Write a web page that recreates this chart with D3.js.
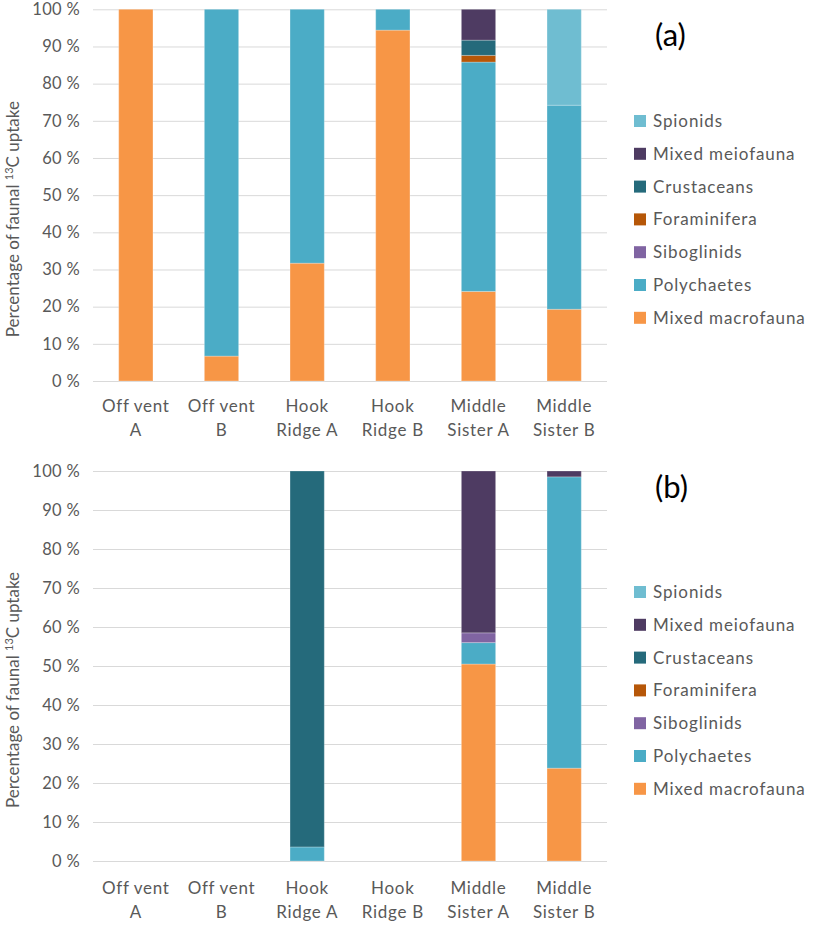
<!DOCTYPE html>
<html>
<head>
<meta charset="utf-8">
<script src="https://cdn.jsdelivr.net/npm/d3@7.9.0/dist/d3.min.js"></script>
<style>
  body { margin: 0; background: #fff; }
  text { font-family: Lato, "Open Sans", sans-serif; fill: #595959; }
</style>
</head>
<body>
<svg id="chart" width="816" height="925"></svg>
<script>
/* ---------- data ---------- */
const sites = [['Off vent', 'A'], ['Off vent', 'B'], ['Hook', 'Ridge A'], ['Hook', 'Ridge B'], ['Middle', 'Sister A'], ['Middle', 'Sister B']];
const siteIds = ['OVA', 'OVB', 'HRA', 'HRB', 'MSA', 'MSB'];

// stacked bottom -> top
const groups = ['Mixed macrofauna', 'Polychaetes', 'Siboglinids', 'Foraminifera', 'Crustaceans', 'Mixed meiofauna', 'Spionids'];
const colors = ['#f79646', '#4bacc6', '#8064a2', '#b65708', '#256a7b', '#4e3b62', '#6fbdd1'];

// panel (a), one array per group, values per site (%)
const aMacro   = [100, 6.7, 31.7, 94.4, 24.1, 19.3];
const aPoly    = [0, 93.3, 68.3, 5.6, 61.7, 54.9];
const aSibo    = [0, 0, 0, 0, 0, 0];
const aForam   = [0, 0, 0, 0, 1.8, 0];
const aCrust   = [0, 0, 0, 0, 4.1, 0];
const aMeio    = [0, 0, 0, 0, 8.3, 0];
const aSpion   = [0, 0, 0, 0, 0, 25.8];

// panel (b)
const bMacro   = [0, 0, 0, 0, 50.5, 23.8];
const bPoly    = [0, 0, 3.6, 0, 5.5, 74.7];
const bSibo    = [0, 0, 0, 0, 2.5, 0];
const bForam   = [0, 0, 0, 0, 0, 0];
const bCrust   = [0, 0, 96.4, 0, 0, 0];
const bMeio    = [0, 0, 0, 0, 41.5, 1.5];
const bSpion   = [0, 0, 0, 0, 0, 0];

const yTicks = [0, 10, 20, 30, 40, 50, 60, 70, 80, 90, 100];

/* ---------- build rows ---------- */
function buildRows(cols) {
  return siteIds.map((id, i) => {
    const row = { site: id };
    groups.forEach((g, j) => { row[g] = cols[j][i]; });
    return row;
  });
}

const panels = [
  { label: '(a)', top: 9.3, bottom: 381, labelY: 46, legendY: 121, xLabelGap: 31,
    rows: buildRows([aMacro, aPoly, aSibo, aForam, aCrust, aMeio, aSpion]) },
  { label: '(b)', top: 471, bottom: 861, labelY: 498, legendY: 592, xLabelGap: 33,
    rows: buildRows([bMacro, bPoly, bSibo, bForam, bCrust, bMeio, bSpion]) }
];

const svg = d3.select('#chart');
const left = 93, right = 607;

const color = d3.scaleOrdinal().domain(groups).range(colors);

const xScale = d3.scaleBand()
  .domain(siteIds)
  .range([left, right])
  .paddingInner(0.6)
  .paddingOuter(0.3);

function drawPanel(p) {
  const g = svg.append('g');

  const yScale = d3.scaleLinear().domain([0, 100]).range([p.bottom, p.top]);

  /* gridlines */
  g.append('g')
    .attr('transform', `translate(${left},0)`)
    .call(d3.axisLeft(yScale).tickValues(yTicks).tickSize(-(right - left)).tickFormat(''))
    .call(s => s.select('.domain').remove())
    .call(s => s.selectAll('line').attr('stroke', '#d9d9d9').attr('stroke-width', 1));

  /* y tick labels */
  g.append('g')
    .selectAll('text')
    .data(yTicks)
    .join('text')
    .attr('x', 80)
    .attr('y', d => yScale(d))
    .attr('dy', '0.35em')
    .attr('text-anchor', 'end')
    .style('font-size', '16.5px')
    .style('letter-spacing', '0.3px')
    .text(d => `${d} %`);

  /* bars */
  const stacked = d3.stack().keys(groups)(p.rows);

  g.append('g')
    .selectAll('g')
    .data(stacked)
    .join('g')
    .attr('fill', d => color(d.key))
    .selectAll('rect')
    .data(d => d.filter(v => v[1] - v[0] > 0))
    .join('rect')
    .attr('x', d => xScale(d.data.site))
    .attr('width', xScale.bandwidth())
    .attr('y', d => yScale(d[1]))
    .attr('height', d => yScale(d[0]) - yScale(d[1]))
    .attr('stroke', 'rgba(255,255,255,0.25)')
    .attr('stroke-width', 1);

  /* x labels */
  const xl = g.append('g')
    .selectAll('text')
    .data(siteIds)
    .join('text')
    .attr('x', d => xScale(d) + xScale.bandwidth() / 2)
    .attr('y', p.bottom + p.xLabelGap)
    .attr('text-anchor', 'middle')
    .style('font-size', '17px')
    .style('letter-spacing', '0.7px');

  xl.append('tspan')
    .attr('x', d => xScale(d) + xScale.bandwidth() / 2)
    .text((d, i) => sites[i][0]);
  xl.append('tspan')
    .attr('x', d => xScale(d) + xScale.bandwidth() / 2)
    .attr('dy', 23.5)
    .text((d, i) => sites[i][1]);

  /* y title */
  const cy = (p.top + p.bottom) / 2 + 24;
  const t = g.append('text')
    .attr('transform', `translate(19,${cy}) rotate(-90)`)
    .attr('text-anchor', 'middle')
    .style('font-size', '17px');
  t.append('tspan').text('Percentage of faunal ');
  t.append('tspan').attr('dy', -6).style('font-size', '11px').text('13');
  t.append('tspan').attr('dy', 6).text('C uptake');

  /* panel label */
  g.append('text')
    .attr('x', 655)
    .attr('y', p.labelY)
    .style('font-size', '31px')
    .style('fill', '#000')
    .text(p.label);

  /* legend (top entry = last stacked group) */
  const legendItems = groups.slice().reverse();
  const lg = g.append('g')
    .selectAll('g')
    .data(legendItems)
    .join('g')
    .attr('transform', (d, i) => `translate(634,${p.legendY + i * 32.8})`);

  lg.append('rect')
    .attr('y', -6)
    .attr('width', 12)
    .attr('height', 12)
    .attr('fill', d => color(d));

  lg.append('text')
    .attr('x', 19)
    .attr('dy', '0.35em')
    .style('font-size', '17px')
    .style('letter-spacing', '0.9px')
    .text(d => d);
}

panels.forEach(drawPanel);
</script>
</body>
</html>
